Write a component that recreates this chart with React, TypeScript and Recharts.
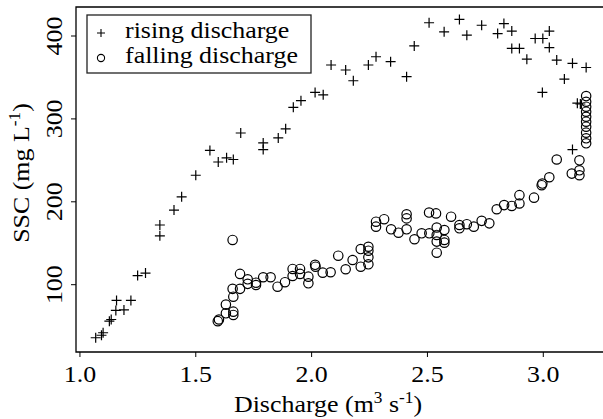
import React from 'react';
import { ScatterChart, Scatter, XAxis, YAxis, ReferenceArea, Legend } from 'recharts';

// rising limb: discharge (m3/s) and SSC (mg/L)
const risingQ = [
  1.068, 1.093, 1.1, 1.127, 1.135, 1.158, 1.155, 1.19, 1.22, 1.249, 1.283, 1.345, 1.345,
  1.406, 1.439, 1.5, 1.561, 1.597, 1.633, 1.662, 1.694, 1.791, 1.791, 1.856, 1.888, 1.921,
  1.954, 2.015, 2.05, 2.084, 2.147, 2.18, 2.245, 2.278, 2.341, 2.41, 2.443, 2.507, 2.572,
  2.638, 2.67, 2.734, 2.803, 2.83, 2.864, 2.864, 2.897, 2.929, 2.965, 2.998, 3.026, 3.026,
  2.996, 3.058, 3.126, 3.185, 3.091, 3.147, 3.16, 3.126,
];
const risingSSC = [
  36, 39, 42, 56, 58, 81, 69, 69.5, 81, 111, 114, 172, 159,
  190, 206, 232, 262, 248, 253, 251, 283, 271, 263, 277, 288, 314,
  322, 332, 329, 365, 359, 346, 365, 375, 369, 351, 388, 416, 405,
  420, 401, 413, 403, 415, 406, 385, 385, 372, 397, 397, 406, 386,
  332, 371, 367, 362, 348, 319, 318, 263,
];

// falling limb
const fallingQ = [
  1.595, 1.6, 1.63, 1.63, 1.662, 1.662, 1.662, 1.659, 1.691, 1.691, 1.724, 1.724, 1.76, 1.76,
  1.791, 1.823, 1.853, 1.885, 1.918, 1.918, 1.95, 1.95, 1.986, 1.986, 2.015, 2.017, 2.048,
  2.082, 2.115, 2.147, 2.177, 2.212, 2.212, 2.245, 2.245, 2.245, 2.245, 2.278, 2.278, 2.313,
  2.343, 2.375, 2.41, 2.41, 2.41, 2.444, 2.475, 2.508, 2.507, 2.537, 2.54, 2.54, 2.54, 2.54,
  2.573, 2.573, 2.573, 2.602, 2.638, 2.638, 2.67, 2.7, 2.734, 2.767, 2.799, 2.831, 2.864,
  2.897, 2.897, 2.96, 2.993, 2.996, 3.026, 3.058, 3.123, 3.156, 3.156, 3.156,
  3.185, 3.185, 3.185, 3.185, 3.185, 3.185, 3.185, 3.185, 3.185, 3.185, 1.659,
];
const fallingSSC = [
  56, 58, 76, 65.5, 67.5, 63.5, 85.5, 95, 95, 113, 106.5, 101, 102.4, 99.6,
  109, 109, 97.6, 103, 119, 110.5, 119, 113, 109.7, 101.7, 124, 121.7, 114.5,
  115, 135, 118.6, 129.8, 143, 121.7, 145.8, 141, 133, 124.6, 176, 170, 179,
  166.8, 162.7, 185, 180, 166.8, 154.8, 162, 162, 187, 186, 169, 160, 152, 138.6,
  166, 154, 150.7, 182, 172, 168, 173, 170, 177, 174, 191, 196, 195,
  208, 198, 205, 220, 222, 229.6, 251, 234, 232, 250, 238,
  327.6, 320.7, 314.7, 308.7, 302.6, 296.6, 290.6, 283.4, 276.6, 270.6, 154,
];

const xTicks = [1.0, 1.5, 2.0, 2.5, 3.0];
const yTicks = [100, 200, 300, 400];
const seriesNames = ['rising discharge', 'falling discharge'];

const risingData = risingQ.map((q, i) => ({ q, ssc: risingSSC[i] }));
const fallingData = fallingQ.map((q, i) => ({ q, ssc: fallingSSC[i] }));

const FONT = '"Liberation Serif", "Times New Roman", serif';
const STRETCH = 1.08; // reference type is a bit wider than Liberation Serif

// text stretched along its own direction
const SText = ({ x, y, rot = 0, anchor = 'start', children }: any) => (
  <g transform={`translate(${x},${y}) rotate(${rot}) scale(${STRETCH},1)`}>
    <text x={0} y={0} textAnchor={anchor} fontSize={24} fontFamily={FONT} fill="#000">
      {children}
    </text>
  </g>
);

const PlusShape = (p: any) => (
  <path d={`M${p.cx - 5},${p.cy}h10M${p.cx},${p.cy - 5}v10`} stroke="#000" strokeWidth={1.2} fill="none" />
);
const CircleShape = (p: any) => (
  <circle cx={p.cx} cy={p.cy} r={4.7} fill="none" stroke="#000" strokeWidth={1.2} />
);

const XTick = ({ x, y, payload }: any) => (
  <SText x={x} y={y + 23} anchor="middle">{Number(payload.value).toFixed(1)}</SText>
);

const YTick = ({ y, payload }: any) => (
  <SText x={62} y={y} rot={-90} anchor="middle">{payload.value}</SText>
);

const XTitle = () => (
  <SText x={328} y={412} anchor="middle">
    Discharge (m<tspan dy={-9} fontSize={16}>3</tspan><tspan dy={9}> s</tspan>
    <tspan dy={-9} fontSize={16}>-1</tspan><tspan dy={9}>)</tspan>
  </SText>
);

const YTitle = () => (
  <SText x={29} y={173} rot={-90} anchor="middle">
    SSC (mg L<tspan dy={-9} fontSize={16}>-1</tspan><tspan dy={9}>)</tspan>
  </SText>
);

const LegendBox = () => (
  <svg width={226} height={60} style={{ display: 'block' }}>
    <rect x={1} y={1} width={224} height={58} fill="#fff" stroke="#222" strokeWidth={1.3} />
    {seriesNames.map((name, i) => {
      const cy = 19 + i * 25;
      return (
        <g key={name}>
          {i === 0 ? (
            <path d={`M11,${cy}h8M15,${cy - 4}v8`} stroke="#000" strokeWidth={1.1} />
          ) : (
            <circle cx={15} cy={cy} r={3.6} fill="none" stroke="#000" strokeWidth={1.1} />
          )}
          <SText x={39} y={cy + 5}>{name}</SText>
        </g>
      );
    })}
  </svg>
);

export default function App() {
  return (
    <div style={{ position: 'absolute', left: 0, top: 0, width: 603, height: 419, overflow: 'hidden', background: '#fff' }}>
      <ScatterChart width={610} height={419} margin={{ top: 7, right: 3, bottom: 0, left: 0 }}>
        <XAxis
          type="number"
          dataKey="q"
          domain={[0.983, 3.275]}
          ticks={xTicks}
          allowDataOverflow
          axisLine={false}
          tickLine={{ stroke: '#000' }}
          tickSize={5}
          tickMargin={2}
          height={67}
          tick={<XTick />}
          label={<XTitle />}
        />
        <YAxis
          type="number"
          dataKey="ssc"
          domain={[18.8, 435]}
          ticks={yTicks}
          allowDataOverflow
          axisLine={false}
          tickLine={{ stroke: '#000' }}
          tickSize={5}
          width={76}
          tick={<YTick />}
          label={<YTitle />}
        />
        <ReferenceArea x1={0.983} x2={3.275} y1={18.8} y2={435} fill="none" stroke="#000" strokeWidth={1.3} ifOverflow="visible" />
        <Scatter name={seriesNames[0]} data={risingData} shape={PlusShape} isAnimationActive={false} />
        <Scatter name={seriesNames[1]} data={fallingData} shape={CircleShape} isAnimationActive={false} />
        <Legend
          layout="vertical"
          align="center"
          verticalAlign="middle"
          content={<LegendBox />}
          wrapperStyle={{ position: 'absolute', left: 86, top: 14, width: 226, height: 60 }}
        />
      </ScatterChart>
    </div>
  );
}
